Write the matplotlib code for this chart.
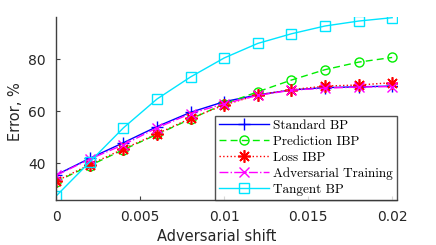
import matplotlib
matplotlib.use("Agg")
import matplotlib.pyplot as plt

# donnees
shift = [0, 0.002, 0.004, 0.006, 0.008, 0.010, 0.012, 0.014, 0.016, 0.018, 0.020]
standard_bp = [35.4, 41.8, 47.8, 54.0, 59.5, 63.6, 66.2, 68.1, 69.0, 69.3, 69.6]
prediction_ibp = [32.8, 39.0, 45.1, 51.0, 56.9, 62.7, 67.4, 71.9, 75.9, 78.8, 80.6]
loss_ibp = [33.0, 39.4, 45.4, 51.2, 57.2, 62.3, 66.2, 68.2, 69.6, 70.0, 70.9]
adversarial = [35.2, 41.5, 47.0, 53.5, 59.0, 62.8, 66.0, 68.0, 68.8, 69.2, 69.4]
tangent_bp = [27.3, 40.4, 53.5, 64.6, 73.1, 80.4, 86.0, 89.7, 92.7, 94.6, 95.9]

xticks = [0, 0.005, 0.01, 0.015, 0.02]
xtick_labels = ["0", "0.005", "0.01", "0.015", "0.02"]
yticks = [40, 60, 80]

fig = plt.figure(figsize=(4.36, 2.45), dpi=100)
ax = fig.add_axes([0.128, 0.184, 0.783, 0.747])

ax.plot(shift, standard_bp, color="#0000ff", linestyle="-", marker="+",
        markersize=9, markeredgewidth=1, linewidth=1, label="Standard BP")
ax.plot(shift, prediction_ibp, color="#00ee00", linestyle=(0, (5, 3)), marker="o",
        markerfacecolor="none", markersize=6.5, linewidth=1, label="Prediction IBP")
ax.plot(shift, loss_ibp, color="#ff0000", linestyle=":", marker=(8, 2, 0),
        markersize=9, markeredgewidth=1.2, linewidth=1, label="Loss IBP")
ax.plot(shift, adversarial, color="#ff00ff", linestyle="-.", marker="x",
        markersize=6.5, linewidth=1, label="Adversarial Training")
ax.plot(shift, tangent_bp, color="#00e5ff", linestyle="-", marker="s",
        markerfacecolor="none", markersize=6.5, linewidth=1, label="Tangent BP")

ax.set_xlim(-0.00002, 0.0203)
ax.set_ylim(25.8, 96.2)
ax.set_xticks(xticks)
ax.set_xticklabels(xtick_labels)
ax.set_yticks(yticks)

for s in ["top", "right"]:
    ax.spines[s].set_visible(False)
for s in ["left", "bottom"]:
    ax.spines[s].set_color("#404040")
    ax.spines[s].set_linewidth(1)

ax.tick_params(direction="in", length=3, colors="#404040", labelcolor="#262626",
               labelsize=10)
ax.tick_params(axis="y", pad=7)
ax.tick_params(axis="x", pad=7)
ax.set_xlabel("Adversarial shift", fontsize=10.5, color="#262626")
ax.set_ylabel("Error, %", fontsize=10.5, color="#262626")
ax.xaxis.set_label_coords(0.472, -0.16)
ax.yaxis.set_label_coords(-0.097, 0.485)

leg = ax.legend(loc="lower right", bbox_to_anchor=(1.0, 0.0),
                prop={"family": "cmr10", "size": 9.5},
                frameon=True, fancybox=False, edgecolor="#262626",
                borderaxespad=0, labelspacing=0.28, handlelength=3.8,
                handletextpad=0.35, borderpad=0.3)
leg.get_frame().set_linewidth(1)

fig.savefig("out.png", dpi=100)
